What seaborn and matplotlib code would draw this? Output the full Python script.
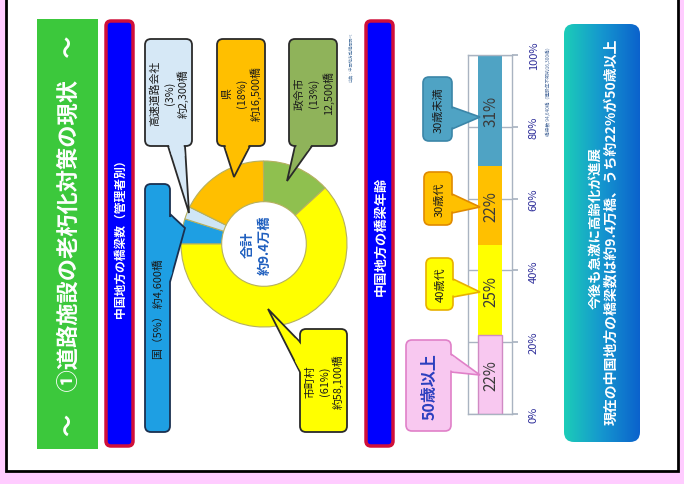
import numpy as np
import pandas as pd
import matplotlib
matplotlib.use("Agg")
import matplotlib.pyplot as plt
import matplotlib.transforms as mtrans
import seaborn as sns
from matplotlib.patches import FancyBboxPatch, Polygon, Rectangle
from matplotlib.colors import LinearSegmentedColormap

sns.set_theme(style="white")
plt.rcParams["font.family"] = ["Noto Sans CJK JP", "DejaVu Sans"]

# ---------------- data ----------------
owners = ["国", "高速道路会社", "県", "政令市", "市町村"]
owner_bridges = [4600, 2300, 16500, 12500, 58100]
owner_pct = [5, 3, 18, 13, 61]
owner_colors = ["#1E9FE3", "#CFE6F6", "#FFBF00", "#8FC04F", "#FFFF00"]
owner_labels = [["国（5%） 約4,600橋"],
                ["高速道路会社", "(3%)", "約2,300橋"],
                ["県", "(18%)", "約16,500橋"],
                ["政令市", "(13%)", "12,500橋"],
                ["市町村", "(61%)", "約58,100橋"]]
total_label = ["合計", "約9.4万橋"]

age_groups = ["50歳以上", "40歳代", "30歳代", "30歳未満"]
age_pct = [22, 25, 22, 31]
age_colors = ["#F8C8F0", "#FFFF00", "#FFC000", "#4FA3C4"]
tick_vals = [0, 20, 40, 60, 80, 100]
tick_labels = ["0%", "20%", "40%", "60%", "80%", "100%"]

title = "～　①道路施設の老朽化対策の現状　～"
panel1_title = "中国地方の橋梁数（管理者別）"
panel2_title = "中国地方の橋梁年齢"
source_note = "出典：中国地方整備局調べ"
count_note = "橋梁数 94,640橋（建設年不明約16,300橋）"
msg1 = "今後も急激に高齢化が進展"
msg2 = "現在の中国地方の橋梁数は約9.4万橋、うち約22%が50歳以上"

W, H = 684, 485
fig = plt.figure(figsize=(W / 100, H / 100), dpi=100, facecolor="#FFCCFF")


def frac(x0, y0, x1, y1):
    return [x0 / W, (H - y1) / H, (x1 - x0) / W, (y1 - y0) / H]


def vtext(ax, x, y, s, fs, **kw):
    # vertical (rotated 90°) text whose glyph centre sits at (x, y)
    tr = mtrans.offset_copy(ax.transData, fig=fig, x=0.38 * fs, y=0, units="points")
    ax.text(x, y, s, transform=tr, fontsize=fs, rotation=90, rotation_mode="anchor",
            ha="center", va="baseline", **kw)


def vlines_text(ax, cx, cy, lines, step, fs, **kw):
    n = len(lines)
    for i, ln in enumerate(lines):
        vtext(ax, cx + (i - (n - 1) / 2) * step, cy, ln, fs, **kw)


ax_bg = fig.add_axes([0, 0, 1, 1], zorder=0)
ax_bg.set_xlim(0, W)
ax_bg.set_ylim(H, 0)
ax_bg.axis("off")
ax_bg.patch.set_alpha(0)

# white card
ax_bg.add_patch(Rectangle((6, -10), 672, 482, fc="white", ec="black", lw=2, zorder=1))
# green title bar
ax_bg.add_patch(Rectangle((37, 20), 61, 430, fc="#3CC83C", ec="none", zorder=2))
vtext(ax_bg, 67, 236, title, 16, color="white", fontweight="bold", zorder=3)
# blue section bars
for x0, txt, fs in [(106, panel1_title, 8.5), (366, panel2_title, 9.5)]:
    ax_bg.add_patch(FancyBboxPatch((x0, 22), 27, 425, boxstyle="round,pad=0,rounding_size=5",
                                   fc="#0000FF", ec="#D0103A", lw=2.5, zorder=2))
    vtext(ax_bg, x0 + 13.5, 236, txt, fs, color="white", fontweight="bold", zorder=3)

# gradient message box
grad_box = FancyBboxPatch((564, 25), 76, 418, boxstyle="round,pad=0,rounding_size=10",
                          fc="none", ec="none", zorder=2)
ax_bg.add_patch(grad_box)
cmap = LinearSegmentedColormap.from_list("tb", ["#1CCDB8", "#1596CF", "#0B62CC"])
grad = np.linspace(0, 1, 256).reshape(1, -1)
im = ax_bg.imshow(grad, extent=[564, 640, 443, 25], cmap=cmap, aspect="auto", zorder=2)
im.set_clip_path(grad_box)
ax_bg.set_xlim(0, W)
ax_bg.set_ylim(H, 0)
vtext(ax_bg, 594, 228, msg1, 9.7, color="white", fontweight="bold", zorder=3)
vtext(ax_bg, 610, 232, msg2, 10, color="white", fontweight="bold", zorder=3)

# small notes
vtext(ax_bg, 350, 57, source_note, 3, color="#5A7FA8", zorder=3)
vtext(ax_bg, 548, 90, count_note, 3.4, color="#4F6E9E", zorder=3)

# ---------------- donut ----------------
cx, cy, R, S = 264, 245, 83, 88
ax_pie = fig.add_axes(frac(cx - S, cy - S, cx + S, cy + S), zorder=1)
ax_pie.pie(owner_bridges, colors=owner_colors, startangle=180, counterclock=False, radius=1,
           wedgeprops=dict(width=0.49, edgecolor="#B5B060", linewidth=0.8))
ax_pie.set_xlim(-S / R, S / R)
ax_pie.set_ylim(-S / R, S / R)
ax_pie.set_aspect("equal")
ax_pie.axis("off")
ax_pie.patch.set_alpha(0)

# ---------------- stacked age bar ----------------
ax_bar = fig.add_axes(frac(468, 56, 512, 415), zorder=1)
df = pd.DataFrame({"bar": ["b"] * len(age_groups), "age": age_groups,
                   "cum": np.cumsum(age_pct)})
sns.barplot(data=df, x="bar", y="cum", hue="age", hue_order=age_groups[::-1],
            palette=dict(zip(age_groups, age_colors)), dodge=False, width=0.556,
            saturation=1, ax=ax_bar, legend=False)
for p in ax_bar.patches:
    p.set_edgecolor("none")
ax_bar.patches[-1].set_edgecolor("#D08AC4")
ax_bar.patches[-1].set_linewidth(1)
ax_bar.set_xlim(-0.5, 0.5)
ax_bar.set_ylim(0, 100)
ax_bar.set_xticks([])
ax_bar.set_xlabel("")
ax_bar.set_ylabel("")
ax_bar.set_axisbelow(True)
ax_bar.grid(axis="y", color="#A9B3C1", lw=1)
ax_bar.patch.set_alpha(0)
for s in ax_bar.spines.values():
    s.set_visible(True)
    s.set_color("#A9B3C1")
    s.set_linewidth(1)
ax_bar.yaxis.tick_right()
ax_bar.set_yticks(tick_vals)
ax_bar.set_yticklabels(tick_labels, rotation=90, va="center", color="#2E2E9A", fontsize=8)
ax_bar.tick_params(axis="y", which="both", right=True, left=False, length=4,
                   color="#A9B3C1", pad=8)
cum = np.cumsum(age_pct)
for v, c in zip(age_pct, cum):
    vtext(ax_bar, 0, c - v / 2, f"{v}%", 11, color="#3A3A3A")

# ---------------- callouts (foreground) ----------------
ax_fg = fig.add_axes([0, 0, 1, 1], zorder=3)
ax_fg.set_xlim(0, W)
ax_fg.set_ylim(H, 0)
ax_fg.axis("off")
ax_fg.patch.set_alpha(0)

vlines_text(ax_fg, 255, 245, total_label, 16.5, 9.5, color="#1F5FBF",
            fontweight="bold", zorder=8)


def callout(ax, box, base, tip, fc, ec, lw=1.2, r=5):
    x0, y0, x1, y1 = box
    b0, b1, t = np.array(base[0], float), np.array(base[1], float), np.array(tip, float)
    ax.add_patch(Polygon([b0, t, b1], closed=True, fc=fc, ec=ec, lw=lw, zorder=5,
                         joinstyle="miter"))
    ax.add_patch(FancyBboxPatch((x0, y0), x1 - x0, y1 - y0,
                                boxstyle=f"round,pad=0,rounding_size={r}",
                                fc=fc, ec=ec, lw=lw, zorder=6))
    u = (b1 - b0) / np.linalg.norm(b1 - b0)
    mid = (b0 + b1) / 2
    n_in = (mid - t) / np.linalg.norm(mid - t)
    d = 1.0
    p0 = b0 + (t - b0) * 0.15 + u * d
    p1 = b1 + (t - b1) * 0.15 - u * d
    ax.add_patch(Polygon([b0 + u * d + n_in * 2.5, b1 - u * d + n_in * 2.5, p1, p0],
                         closed=True, fc=fc, ec="none", zorder=7))


dk = "#2A2A2A"
pie_callouts = [
    ((145, 185, 170, 433), ((170, 215), (170, 283)), (185, 229), "#1E9FE3", "#1A3050"),
    ((145, 40, 192, 147), ((168, 147), (185, 147)), (189, 214), "#D6E8F6", dk),
    ((217, 40, 265, 147), ((224, 147), (250, 147)), (234, 178), "#FFBF00", dk),
    ((289, 40, 337, 147), ((295, 147), (312, 147)), (287, 182), "#8FB35A", dk),
    ((300, 330, 347, 433), ((300, 343), (300, 373)), (268, 310), "#FFFF00", dk),
]
for (box, base, tip, fc, ec), lab in zip(pie_callouts, owner_labels):
    callout(ax_fg, box, base, tip, fc, ec, lw=1.3, r=6)
    vlines_text(ax_fg, (box[0] + box[2]) / 2, (box[1] + box[3]) / 2, lab, 14.5, 7.8,
                color="#1A1A1A", zorder=8)

age_callouts = [
    ((406, 341, 451, 432), ((451, 355), (451, 373)), (480, 376), "#F8C8F0", "#E080C8"),
    ((426, 259, 453, 311), ((453, 280), (453, 298)), (480, 293), "#FFFF00", "#E8B000"),
    ((424, 173, 452, 226), ((452, 195), (452, 214)), (480, 208), "#FFC000", "#E08A00"),
    ((423, 78, 452, 142), ((452, 108), (452, 130)), (480, 118), "#4FA3C4", "#3B86A8"),
]
for (box, base, tip, fc, ec), lab in zip(age_callouts, age_groups):
    callout(ax_fg, box, base, tip, fc, ec, lw=1.2, r=6)
    big = lab == "50歳以上"
    vtext(ax_fg, (box[0] + box[2]) / 2, (box[1] + box[3]) / 2, lab,
          11.5 if big else 8,
          color="#2B3FBF" if big else "#1A1A1A",
          fontweight="bold" if big else "normal", zorder=8)

fig.savefig("out.png", dpi=100, facecolor=fig.get_facecolor())
